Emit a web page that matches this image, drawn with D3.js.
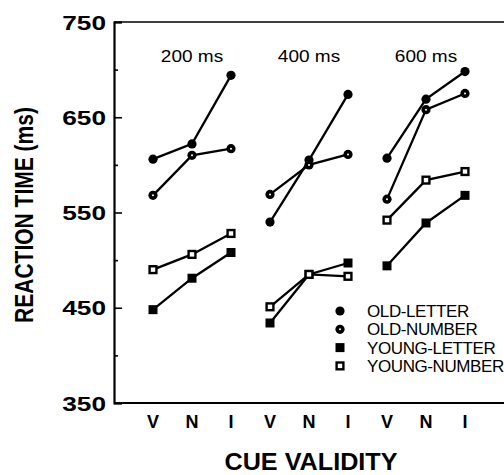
<!DOCTYPE html>
<html lang="en">
<head>
    <meta charset="UTF-8">
    <title>Reaction Time by Cue Validity</title>
    <style>
        body {
            margin: 0;
            background: #fff;
        }
        svg text {
            font-family: "Liberation Sans", Arial, sans-serif;
            fill: #000;
        }
    </style>
</head>
<body>
    <div id="chart"></div>
    <script src="https://d3js.org/d3.v7.min.js"></script>
    <script>
        // data
        var validity = ["V", "N", "I"];
        var soaLabels = ["200 ms", "400 ms", "600 ms"];
        var yTicks = [350, 450, 550, 650, 750];
        var yMinor = [400, 500, 600, 700];

        var oldLetter   = [[606, 622, 694], [540, 605, 674], [607, 669, 698]];
        var oldNumber   = [[568, 610, 617], [569, 600, 611], [564, 658, 675]];
        var youngLetter = [[448, 481, 508], [434, 485, 497], [494, 539, 568]];
        var youngNumber = [[490, 506, 528], [451, 485, 483], [542, 584, 593]];

        var seriesNames = ["OLD-LETTER", "OLD-NUMBER", "YOUNG-LETTER", "YOUNG-NUMBER"];
        var seriesData = [oldLetter, oldNumber, youngLetter, youngNumber];

        var width = 504, height = 475;
        var plot = { left: 114, top: 22, bottom: 403, right: 504 };

        var svg = d3.select("#chart")
            .append("svg")
            .attr("width", width)
            .attr("height", height);

        var x = d3.scaleLinear()
            .domain([0, soaLabels.length * validity.length - 1])
            .range([153, 465]);

        var y = d3.scaleLinear()
            .domain([350, 750])
            .range([plot.bottom, plot.top]);

        // frame
        svg.append("line")
            .attr("x1", plot.left).attr("x2", plot.right)
            .attr("y1", plot.top).attr("y2", plot.top)
            .attr("stroke", "#000").attr("stroke-width", 1.6);
        svg.append("line")
            .attr("x1", plot.left).attr("x2", plot.right)
            .attr("y1", plot.bottom).attr("y2", plot.bottom)
            .attr("stroke", "#000").attr("stroke-width", 2.2);

        // y axis, ticks pointing inward
        var gy = svg.append("g")
            .attr("transform", "translate(" + plot.left + ",0)")
            .call(d3.axisRight(y).tickValues(yTicks).tickSize(8).tickFormat(""));
        gy.select(".domain").attr("stroke-width", 2.2);
        gy.selectAll(".tick line").attr("stroke-width", 1.6);

        svg.append("g")
            .attr("transform", "translate(" + plot.left + ",0)")
            .call(d3.axisRight(y).tickValues(yMinor).tickSize(4).tickFormat(""))
            .call(g => g.select(".domain").remove())
            .selectAll(".tick line").attr("stroke-width", 1.6);

        // y tick labels (the scan is a bit wider than tall)
        svg.selectAll(".ylab")
            .data(yTicks)
            .enter().append("text")
            .attr("class", "ylab")
            .attr("transform", d => "translate(106," + (y(d) + 7.5) + ") scale(1.25,1)")
            .attr("text-anchor", "end")
            .style("font-size", "21px")
            .style("font-weight", "bold")
            .text(d => d);

        svg.append("text")
            .attr("transform", "translate(33,215) rotate(-90) scale(1,1.25)")
            .attr("text-anchor", "middle")
            .style("font-size", "21px")
            .style("font-weight", "bold")
            .text("REACTION TIME (ms)");

        // x tick labels
        var xLabels = [];
        soaLabels.forEach((s, g) => validity.forEach((v, c) => xLabels.push({ i: g * 3 + c, label: v })));

        svg.selectAll(".xlab")
            .data(xLabels)
            .enter().append("text")
            .attr("class", "xlab")
            .attr("x", d => x(d.i))
            .attr("y", 428)
            .attr("text-anchor", "middle")
            .style("font-size", "18px")
            .style("font-weight", "bold")
            .text(d => d.label);

        svg.append("text")
            .attr("transform", "translate(311,470) scale(1.05,1)")
            .attr("text-anchor", "middle")
            .style("font-size", "24px")
            .style("font-weight", "bold")
            .text("CUE VALIDITY");

        // SOA panel labels
        svg.selectAll(".soa")
            .data(soaLabels)
            .enter().append("text")
            .attr("class", "soa")
            .attr("transform", (d, g) => "translate(" + x(g * 3 + 1) + ",62) scale(1.12,1)")
            .attr("text-anchor", "middle")
            .style("font-size", "17px")
            .text(d => d);

        // markers
        function drawMarker(sel, s) {
            if (s === 0) {
                sel.append("circle").attr("r", 4.6).attr("fill", "#000");
            } else if (s === 1) {
                sel.append("circle").attr("r", 4.6).attr("fill", "#000");
                sel.append("circle").attr("r", 1).attr("fill", "#fff");
            } else if (s === 2) {
                sel.append("rect").attr("x", -4.5).attr("y", -4.5)
                    .attr("width", 9).attr("height", 9).attr("fill", "#000");
            } else {
                sel.append("rect").attr("x", -3.4).attr("y", -3.4)
                    .attr("width", 6.8).attr("height", 6.8)
                    .attr("fill", "#fff").attr("stroke", "#000").attr("stroke-width", 2.4);
            }
        }

        var line = d3.line()
            .x(d => x(d.i))
            .y(d => y(d.v));

        seriesData.forEach((groups, s) => {
            groups.forEach((vals, g) => {
                var pts = vals.map((v, c) => ({ i: g * 3 + c, v: v }));
                svg.append("path")
                    .datum(pts)
                    .attr("d", line)
                    .attr("fill", "none")
                    .attr("stroke", "#000")
                    .attr("stroke-width", 2.3);
                pts.forEach(p => {
                    var m = svg.append("g")
                        .attr("transform", "translate(" + x(p.i) + "," + y(p.v) + ")");
                    drawMarker(m, s);
                });
            });
        });

        // legend
        var legend = svg.selectAll(".legend")
            .data(seriesNames)
            .enter().append("g")
            .attr("class", "legend")
            .attr("transform", (d, i) => "translate(340," + (311 + i * 18.3) + ")");

        legend.each(function(d, i) { drawMarker(d3.select(this), i); });

        legend.append("text")
            .attr("x", 27)
            .attr("y", 6)
            .style("font-size", "17px")
            .style("letter-spacing", "-0.4px")
            .text(d => d);
    </script>
</body>
</html>
